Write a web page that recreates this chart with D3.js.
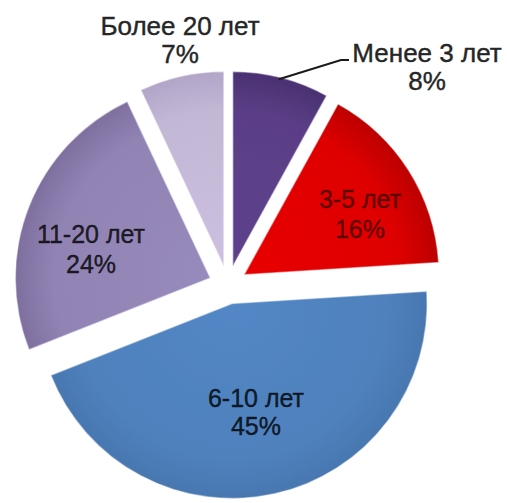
<!DOCTYPE html>
<html>
<head>
<meta charset="utf-8">
<script src="https://cdn.jsdelivr.net/npm/d3@7"></script>
<style>
  html, body { margin: 0; padding: 0; background: #ffffff; }
  svg { display: block; }
</style>
</head>
<body>
<svg id="chart" width="507" height="503"></svg>
<script>
// ---- data ----
const categories = ["Менее 3 лет", "3-5 лет", "6-10 лет", "11-20 лет", "Более 20 лет"];
const values = [8, 16, 45, 24, 7];
const percentLabels = ["8%", "16%", "45%", "24%", "7%"];
const sliceColors = ["#5a3e86", "#de0000", "#4f81bd", "#9184b4", "#c3b7d6"];
const sliceEdges  = ["#4a3172", "#bc0000", "#4877b0", "#7e6f9f", "#b2a5c8"];

// ---- layout ----
const W = 507, H = 503;
const cx = 228, cy = 285, R = 195, explode = 19;
// label first-line baseline positions relative to the pie centre
const labelOffsets = [[199, -223], [132, -77], [28, 122], [-137, -42], [-48, -250]];
const labelInside = [false, true, true, true, false];
const lineGap = [28, 30, 28, 30, 28];

const svg = d3.select("#chart");
const defs = svg.append("defs");

const pie = d3.pie().sort(null).value(d => d)(values);
const arc = d3.arc().innerRadius(0).outerRadius(R);

sliceColors.forEach((c, i) => {
  const g = defs.append("radialGradient")
    .attr("id", "grad" + i)
    .attr("gradientUnits", "userSpaceOnUse")
    .attr("cx", 0).attr("cy", 0).attr("r", R);
  g.append("stop").attr("offset", "0%").attr("stop-color", d3.color(c).brighter(0.12));
  g.append("stop").attr("offset", "80%").attr("stop-color", c);
  g.append("stop").attr("offset", "100%").attr("stop-color", sliceEdges[i]);
});

const blur = defs.append("filter").attr("id", "soft").attr("x", "-10%").attr("y", "-10%").attr("width", "120%").attr("height", "120%");
blur.append("feGaussianBlur").attr("stdDeviation", 0.7);

const root = svg.append("g").attr("transform", `translate(${cx},${cy})`);

const mid = d => (d.startAngle + d.endAngle) / 2;

root.selectAll("path.slice")
  .data(pie)
  .join("path")
  .attr("class", "slice")
  .attr("transform", d => `translate(${Math.sin(mid(d)) * explode},${-Math.cos(mid(d)) * explode})`)
  .attr("d", arc)
  .attr("fill", (d, i) => `url(#grad${i})`)
  .attr("stroke", "#ffffff")
  .attr("stroke-opacity", 0.45)
  .attr("stroke-width", 1.5)
  .attr("filter", "url(#soft)");

// leader line for the first slice (outside label)
{
  const d = pie[0];
  const a = mid(d) - 0.01;
  const ox = Math.sin(mid(d)) * explode, oy = -Math.cos(mid(d)) * explode;
  const sx = ox + Math.sin(a) * (R - 2), sy = oy - Math.cos(a) * (R - 2);
  const lx = labelOffsets[0][0] - 78, ly = labelOffsets[0][1] - 2;
  root.append("path")
    .attr("d", d3.line()([[sx, sy], [lx - 8, ly], [lx, ly]]))
    .attr("fill", "none")
    .attr("stroke", "#1a1a1a")
    .attr("stroke-width", 2);
}

// labels
const labels = root.selectAll("text.lbl")
  .data(pie)
  .join("text")
  .attr("class", "lbl")
  .attr("text-anchor", "middle")
  .attr("font-family", "'Liberation Sans', Arial, sans-serif")
  .attr("font-size", (d, i) => labelInside[i] ? 25 : 26)
  .attr("fill", (d, i) => labelInside[i] ? "#000000" : "#262626")
  .attr("stroke", (d, i) => labelInside[i] ? "#000000" : "#262626")
  .attr("stroke-width", 0.4)
  .attr("fill-opacity", (d, i) => i === 1 ? 0.55 : (labelInside[i] ? 0.8 : 1))
  .attr("stroke-opacity", (d, i) => i === 1 ? 0.55 : (labelInside[i] ? 0.8 : 1));

labels.append("tspan")
  .attr("x", (d, i) => labelOffsets[i][0])
  .attr("y", (d, i) => labelOffsets[i][1])
  .text((d, i) => categories[i]);
labels.append("tspan")
  .attr("x", (d, i) => labelOffsets[i][0])
  .attr("y", (d, i) => labelOffsets[i][1] + lineGap[i])
  .text((d, i) => percentLabels[i]);
</script>
</body>
</html>
